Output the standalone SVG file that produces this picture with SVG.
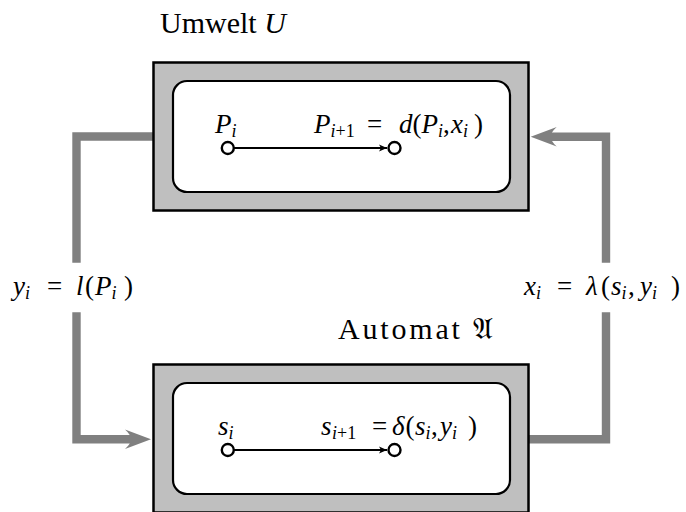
<svg xmlns="http://www.w3.org/2000/svg" width="686" height="512" viewBox="0 0 686 512">
<style>
.outer{fill:#bfbfbf;stroke:#000;stroke-width:2.5}
.inner{fill:#fff;stroke:#000;stroke-width:2.2}
.st{fill:#fff;stroke:#000;stroke-width:2.4}
.conn{fill:none;stroke:#808080;stroke-width:8.4;stroke-linejoin:miter;stroke-linecap:butt}
.ah{fill:#808080;stroke:none}
.tr{fill:none;stroke:#000;stroke-width:2}
.t{font-family:"Liberation Serif","DejaVu Serif",serif;font-size:27px;fill:#000}
.ti{font-family:"Liberation Serif","DejaVu Serif",serif;font-size:30px;fill:#000}
.it{font-style:italic}
.sb{font-size:18px}
</style>
<defs>
<marker id="sa" markerWidth="10" markerHeight="8" refX="9" refY="4" orient="auto" markerUnits="userSpaceOnUse">
<path d="M1,0.5 L9,4 L1,7.5 L3,4 Z" fill="#000"/>
</marker>
</defs>
<g id="connectors">
<path class="conn" d="M153,136.5 H76.5 V262.7"/>
<path class="conn" d="M76.5,312.3 V439.2 H132"/>
<path class="ah" d="M151,439.2 L125,429.5 Q131,435 131,439.2 Q131,443.5 125,449 Z"/>
<path class="conn" d="M529,439.2 H606 V312.3"/>
<path class="conn" d="M606,262.7 V136.7 H550"/>
<path class="ah" d="M530.7,136.7 L556.7,127 Q550.7,132.5 550.7,136.7 Q550.7,141 556.7,146.5 Z"/>
</g>
<g id="umwelt">
<text class="ti" x="160" y="33">Umwelt <tspan class="it">U</tspan></text>
<rect class="outer" x="153.5" y="62.5" width="375" height="148"/>
<rect class="inner" x="173" y="81" width="337" height="111" rx="14"/>
<line class="tr" x1="234" y1="148" x2="387" y2="148" marker-end="url(#sa)"/>
<circle class="st" cx="227.8" cy="148" r="6"/>
<circle class="st" cx="394.5" cy="148" r="6"/>
<text class="t" y="133"><tspan class="it" x="215">P</tspan><tspan class="it sb" x="231.5" y="137">i</tspan></text>
<text class="t" y="133"><tspan class="it" x="314">P</tspan><tspan class="sb" x="330.5" y="137"><tspan class="it">i</tspan>+1</tspan><tspan x="367" y="133">=</tspan><tspan class="it" x="399">d</tspan><tspan x="412.5">(</tspan><tspan class="it" x="421.5">P</tspan><tspan class="it sb" x="438" y="137">i</tspan><tspan x="443" y="133">,</tspan><tspan class="it" x="451">x</tspan><tspan class="it sb" x="463" y="137">i</tspan><tspan x="474" y="133">)</tspan></text>
</g>
<g id="automat">
<text class="ti" x="338" y="339" textLength="155" lengthAdjust="spacing">Automat 𝔄</text>
<rect class="outer" x="153.5" y="364.5" width="375" height="148"/>
<rect class="inner" x="173" y="383" width="337" height="111" rx="14"/>
<line class="tr" x1="234" y1="450" x2="387" y2="450" marker-end="url(#sa)"/>
<circle class="st" cx="227.8" cy="450" r="6"/>
<circle class="st" cx="394.5" cy="450" r="6"/>
<text class="t" y="435"><tspan class="it" x="218">s</tspan><tspan class="it sb" x="228.5" y="439">i</tspan></text>
<text class="t" y="435"><tspan class="it" x="321">s</tspan><tspan class="sb" x="332" y="439"><tspan class="it">i</tspan>+1</tspan><tspan x="372" y="435">=</tspan><tspan class="it" x="392">δ</tspan><tspan x="405.5">(</tspan><tspan class="it" x="415">s</tspan><tspan class="it sb" x="425.5" y="439">i</tspan><tspan x="431" y="435">,</tspan><tspan class="it" x="440">y</tspan><tspan class="it sb" x="452" y="439">i</tspan><tspan x="468" y="435">)</tspan></text>
</g>
<g id="labels">
<text class="t" y="295"><tspan class="it" x="13">y</tspan><tspan class="it sb" x="25" y="299">i</tspan><tspan x="47" y="295">=</tspan><tspan class="it" x="76">l</tspan><tspan x="85">(</tspan><tspan class="it" x="95">P</tspan><tspan class="it sb" x="111.5" y="299">i</tspan><tspan x="124" y="295">)</tspan></text>
<text class="t" y="295"><tspan class="it" x="524">x</tspan><tspan class="it sb" x="536" y="299">i</tspan><tspan x="557" y="295">=</tspan><tspan class="it" x="586">λ</tspan><tspan x="601">(</tspan><tspan class="it" x="611">s</tspan><tspan class="it sb" x="621.5" y="299">i</tspan><tspan x="628" y="295">,</tspan><tspan class="it" x="640">y</tspan><tspan class="it sb" x="652" y="299">i</tspan><tspan x="671" y="295">)</tspan></text>
</g>
</svg>
